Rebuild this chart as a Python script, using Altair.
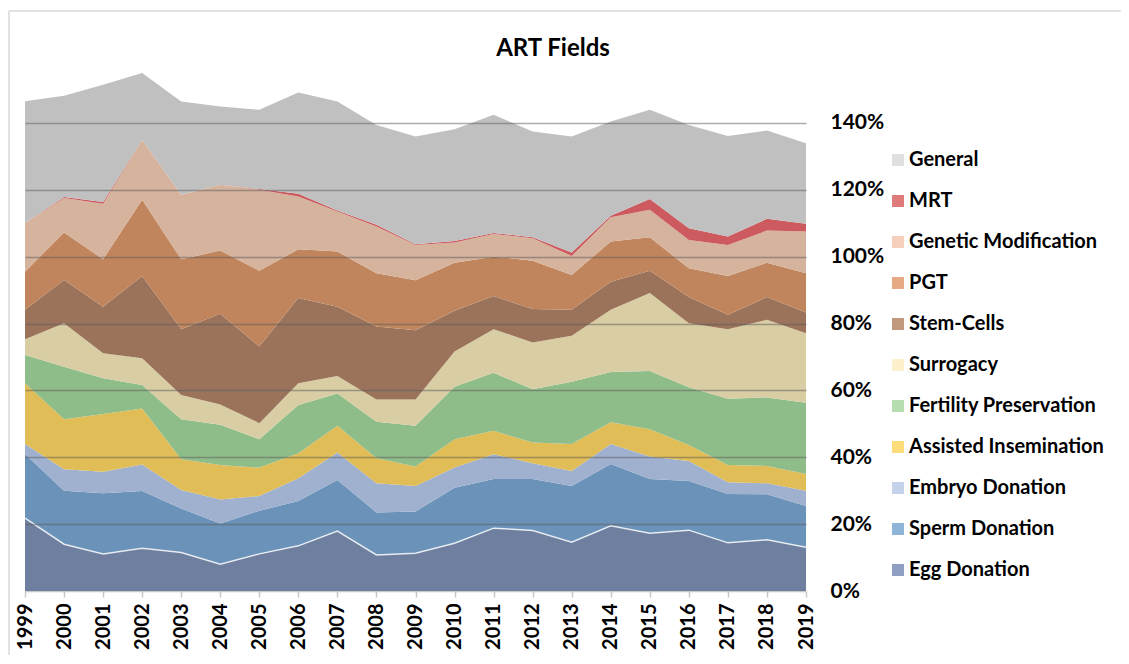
import altair as alt
import pandas as pd

years = [1999, 2000, 2001, 2002, 2003, 2004, 2005, 2006, 2007, 2008, 2009,
         2010, 2011, 2012, 2013, 2014, 2015, 2016, 2017, 2018, 2019]

# values in percent, stacked bottom -> top
egg_donation = [21.8, 14.0, 11.1, 12.8, 11.5, 8.0, 11.1, 13.5, 17.9, 10.8, 11.3,
                14.3, 18.8, 18.1, 14.6, 19.5, 17.3, 18.2, 14.4, 15.3, 13.1]
sperm_donation = [19.2, 16.0, 18.1, 17.1, 13.2, 12.2, 12.9, 13.4, 15.3, 12.7, 12.5,
                  16.6, 14.7, 15.4, 16.8, 18.5, 16.2, 14.7, 14.6, 13.6, 12.3]
embryo_donation = [3.0, 6.4, 6.5, 7.9, 5.5, 7.2, 4.4, 6.8, 8.2, 8.7, 7.6,
                   6.0, 7.4, 4.7, 4.5, 6.0, 6.7, 6.0, 3.5, 3.3, 4.6]
assisted_insemination = [18.1, 15.0, 17.2, 16.8, 9.2, 10.3, 8.5, 7.5, 8.0, 7.5, 5.8,
                         8.5, 7.0, 6.2, 8.1, 6.5, 8.2, 4.8, 5.2, 5.2, 5.0]
fertility_preservation = [8.5, 15.7, 10.7, 7.0, 12.0, 12.0, 8.5, 14.4, 9.7, 10.9, 12.2,
                          15.7, 17.4, 15.9, 18.6, 15.0, 17.4, 17.2, 19.8, 20.5, 21.3]
surrogacy = [4.7, 13.0, 7.5, 8.0, 7.2, 6.1, 4.8, 6.5, 5.2, 6.7, 7.9,
             10.5, 13.0, 14.0, 13.7, 18.6, 23.3, 19.2, 20.8, 23.2, 20.8]
stem_cells = [8.8, 12.9, 13.9, 24.6, 19.7, 27.1, 22.9, 25.5, 20.7, 21.8, 20.7,
              12.2, 9.9, 10.0, 7.8, 8.4, 6.7, 7.8, 4.3, 6.8, 6.2]
pgt = [11.4, 14.2, 14.2, 22.8, 20.9, 18.9, 22.7, 14.6, 16.5, 15.9, 14.9,
       14.4, 11.8, 14.5, 10.4, 12.0, 10.0, 8.6, 11.6, 10.3, 11.7]
genetic_modification = [14.5, 10.3, 16.6, 17.9, 19.3, 19.7, 24.2, 15.8, 12.0, 14.0, 10.6,
                        6.0, 6.8, 6.7, 5.7, 7.3, 8.2, 8.5, 9.3, 9.6, 12.5]
mrt = [0.0, 0.3, 0.5, 0.0, 0.0, 0.0, 0.2, 0.8, 0.3, 0.5, 0.2,
       0.5, 0.3, 0.3, 1.0, 0.4, 3.2, 3.5, 2.5, 3.5, 2.3]
general = [36.5, 30.3, 35.1, 20.0, 27.9, 23.4, 23.7, 30.3, 32.6, 29.9, 32.2,
           33.4, 35.3, 31.6, 34.7, 28.2, 26.7, 30.9, 30.1, 26.4, 24.1]

series_names = ["Egg Donation", "Sperm Donation", "Embryo Donation",
                "Assisted Insemination", "Fertility Preservation", "Surrogacy",
                "Stem-Cells", "PGT", "Genetic Modification", "MRT", "General"]
series_values = [egg_donation, sperm_donation, embryo_donation, assisted_insemination,
                 fertility_preservation, surrogacy, stem_cells, pgt,
                 genetic_modification, mrt, general]
area_colors = ["#6e7fa0", "#6b93b9", "#9fb1cf", "#e0bd57", "#8fbd89", "#d9cda3",
               "#9b735b", "#c0855c", "#d6b39c", "#cc5a5e", "#c0c0c0"]
legend_colors = ["#8f9fc4", "#8eb4d8", "#c4d2ec", "#fddc7a", "#b5ddb0", "#fdf0cc",
                 "#c0997f", "#e6a984", "#f6d0bd", "#e07b7b", "#e0e0e0"]

y_ticks = [0, 0.2, 0.4, 0.6, 0.8, 1.0, 1.2, 1.4]

rows = []
for i, (name, vals) in enumerate(zip(series_names, series_values)):
    for yr, v in zip(years, vals):
        rows.append({"Year": str(yr), "Field": name, "Share": v / 100.0, "Order": i})
df = pd.DataFrame(rows)

legend_order = series_names[::-1]
area_range = area_colors[::-1]
legend_range = legend_colors[::-1]

FONT = "Lato"

x_enc = alt.X("Year:O",
              scale=alt.Scale(type="point", padding=0, domain=[str(y) for y in years]),
              axis=alt.Axis(title=None, labelAngle=270,
                            labelAlign="right", labelBaseline="middle",
                            labelOverlap=False, labelFlush=False,
                            labelFontSize=20, labelFont=FONT, labelFontWeight="bold",
                            labelColor="#000000", labelPadding=6,
                            domainColor="#c8c8c8", domainWidth=1.5,
                            tickColor="#c8c8c8", tickSize=6, tickWidth=1.5,
                            grid=False))
y_enc = alt.Y("Share:Q", stack="zero",
              scale=alt.Scale(domain=[0, 1.6], nice=False),
              axis=alt.Axis(orient="right", values=y_ticks, format=".0%", title=None,
                            labelFontSize=21, labelFont=FONT, labelFontWeight="bold",
                            labelColor="#000000", labelPadding=24, ticks=False,
                            labelOverlap=False, labelFlush=False,
                            domain=False, grid=True, gridColor="#595959",
                            gridWidth=1.5,
                            gridOpacity={"condition": {"test": "datum.value == 0", "value": 0},
                                         "value": 0.5},
                            zindex=1))

areas = alt.Chart(df).mark_area(opacity=1).encode(
    x=x_enc,
    y=y_enc,
    color=alt.Color("Field:N", scale=alt.Scale(domain=legend_order, range=area_range),
                    legend=None),
    order=alt.Order("Order:Q", sort="ascending"),
)

egg_line = alt.Chart(df).transform_filter(
    alt.datum.Field == "Egg Donation"
).mark_line(color="#ffffff", strokeWidth=1.5, opacity=0.8).encode(
    x="Year:O", y="Share:Q"
)

legend_layer = alt.Chart(df).transform_filter("false").mark_square(opacity=1, size=144).encode(
    color=alt.Color("Field:N",
                    scale=alt.Scale(domain=legend_order, range=legend_range),
                    legend=alt.Legend(orient="none", legendX=863, legendY=94, title=None,
                                      labelFontSize=20, labelFont=FONT,
                                      labelFontWeight="bold", labelColor="#000000",
                                      symbolType="square", symbolSize=144,
                                      symbolStrokeWidth=0, symbolOpacity=1,
                                      rowPadding=21, labelOffset=1, labelLimit=400)),
)

title_df = pd.DataFrame({"t": ["ART Fields"]})
title = alt.Chart(title_df).mark_text(fontSize=24, fontWeight="bold", font=FONT,
                                       align="center", baseline="alphabetic",
                                       color="#000000").encode(
    x=alt.value(528), y=alt.value(0), text="t:N")

frame_df = pd.DataFrame({"a": [0]})
left_border = alt.Chart(frame_df).mark_rule(color="#d9d9d9", strokeWidth=1.5).encode(
    x=alt.value(-16), y=alt.value(-45), y2=alt.value(600))
top_border = alt.Chart(frame_df).mark_rule(color="#d9d9d9", strokeWidth=1.5).encode(
    x=alt.value(-16), x2=alt.value(1100), y=alt.value(-45))

chart = alt.layer(areas, egg_line, legend_layer, title, left_border, top_border).resolve_scale(
    color="independent"
).properties(
    width=781, height=535,
    autosize=alt.AutoSizeParams(type="none"),
    padding={"left": 17, "top": 48, "right": 315, "bottom": 64},
).configure_view(strokeWidth=0)

chart.save("out.html", embed_options={"renderer": "svg", "actions": False})
